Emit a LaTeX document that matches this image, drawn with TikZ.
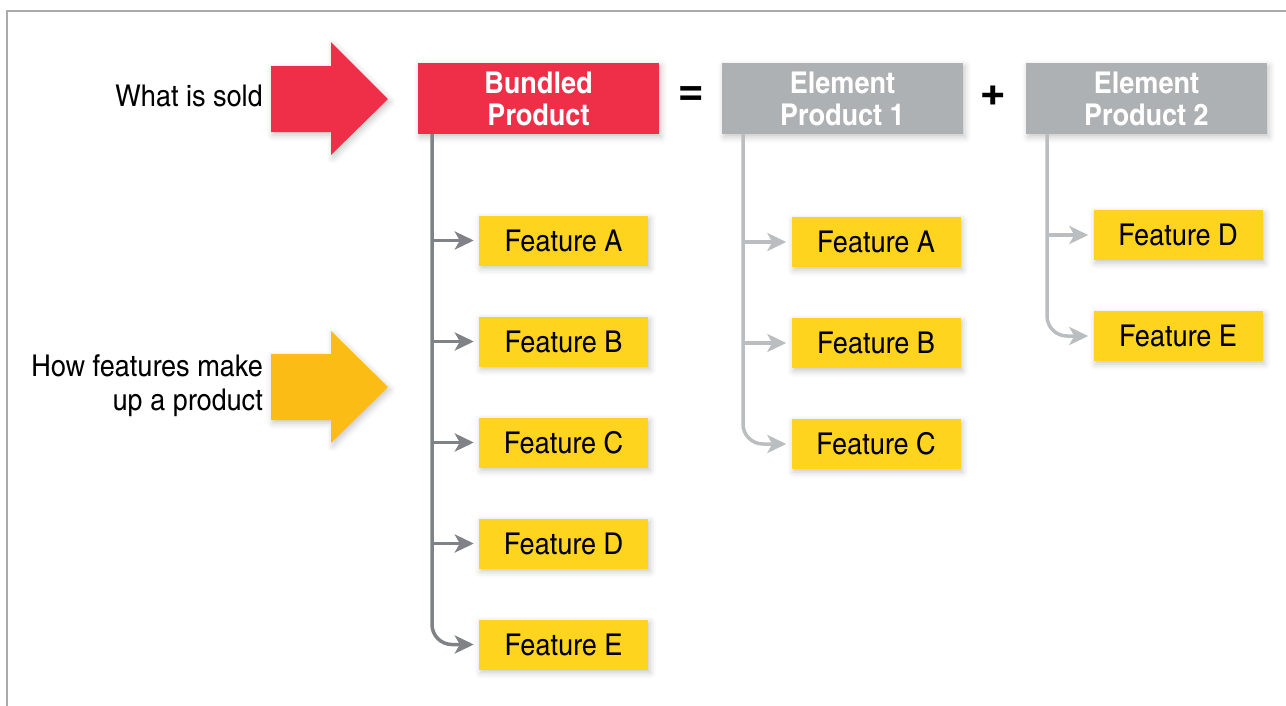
\documentclass[tikz,border=0pt]{standalone}
\usepackage{fontspec}
\setmainfont{texgyreheroscn}[Extension=.otf, UprightFont=*-regular, BoldFont=*-bold, FakeStretch=1.1]
\usepackage{tikz}
\usetikzlibrary{arrows.meta,shadows.blur}
\definecolor{soldred}{HTML}{EF2E48}
\definecolor{featyellow}{HTML}{FED41F}
\definecolor{arrowyellow}{HTML}{FBBC15}
\definecolor{elemgray}{HTML}{AEB1B3}
\definecolor{trunkdark}{HTML}{7F8387}
\definecolor{trunklight}{HTML}{BBBEC1}
\definecolor{framegray}{HTML}{A9ABAE}
\tikzstyle{softshadow}=[blur shadow={shadow xshift=2pt, shadow yshift=-3pt, shadow blur radius=6pt, shadow opacity=22}]
\tikzstyle{product}=[minimum width=241pt, minimum height=71pt, inner sep=0pt, align=center, text=white, font=\fontsize{30}{32}\selectfont\bfseries, softshadow]
\tikzstyle{bundle}=[product, fill=soldred]
\tikzstyle{element}=[product, fill=elemgray]
\tikzstyle{feature}=[fill=featyellow, minimum width=169pt, minimum height=50pt, inner sep=0pt, font=\fontsize{30}{32}\selectfont, softshadow]
\tikzstyle{sign}=[font=\fontsize{52}{52}\selectfont\bfseries, inner sep=0pt]
\tikzstyle{label}=[anchor=east, align=right, inner sep=0pt, font=\fontsize{30}{34}\selectfont]
\tikzstyle{blockarrow}=[softshadow]
\tikzstyle{darklink}=[line width=3.5pt, color=trunkdark, -{Stealth[length=19pt, width=18pt, inset=5pt]}]
\tikzstyle{lightlink}=[line width=3.5pt, color=trunklight, -{Stealth[length=19pt, width=18pt, inset=5pt]}]

\begin{document}
\begin{tikzpicture}[x=1pt, y=-1pt]
\useasboundingbox (0,0) rectangle (1286,705);
\draw[framegray, line width=2.5pt] (7,720) -- (7,11) -- (1300,11);

\fill[soldred, blockarrow] (271,66) -- (331,66) -- (331,42) -- (388,99) -- (331,155) -- (331,132) -- (271,132) -- cycle;
\fill[arrowyellow, blockarrow] (271,354) -- (331,354) -- (331,331) -- (388,387) -- (331,443) -- (331,420) -- (271,420) -- cycle;

\node[label] (sold) at (263,96) {What is sold};
\node[label] (how) at (263,386) {How features make\\up a product};

\node[bundle] (bp) at (538.5,98.5) {Bundled\\Product};
\node[sign] (eq) at (691,97) {=};
\node[element] (ep1) at (842.5,98.5) {Element\\Product 1};
\node[sign] (plus) at (993,97) {+};
\node[element] (ep2) at (1146.5,98.5) {Element\\Product 2};

\node[feature] (bpa) at (563.5,240.5) {Feature A};
\node[feature] (bpb) at (563.5,341.5) {Feature B};
\node[feature] (bpc) at (563.5,442.5) {Feature C};
\node[feature] (bpd) at (563.5,543.5) {Feature D};
\node[feature] (bpe) at (563.5,644.5) {Feature E};

\node[feature] (ep1a) at (876,242) {Feature A};
\node[feature] (ep1b) at (876,343) {Feature B};
\node[feature] (ep1c) at (876,444) {Feature C};

\node[feature] (ep2d) at (1178,235) {Feature D};
\node[feature] (ep2e) at (1178,336) {Feature E};

\coordinate (bpt) at (432,134);
\coordinate (ep1t) at (743,134);
\coordinate (ep2t) at (1047,134);

\draw[darklink, rounded corners=20pt] (bpt) |- ([xshift=-5pt]bpe.west);
\foreach \f in {bpa,bpb,bpc,bpd}
  \draw[darklink] (bpt |- \f.west) -- ([xshift=-5pt]\f.west);

\draw[lightlink, rounded corners=20pt] (ep1t) |- ([xshift=-5pt]ep1c.west);
\foreach \f in {ep1a,ep1b}
  \draw[lightlink] (ep1t |- \f.west) -- ([xshift=-5pt]\f.west);

\draw[lightlink, rounded corners=20pt] (ep2t) |- ([xshift=-5pt]ep2e.west);
\draw[lightlink] (ep2t |- ep2d.west) -- ([xshift=-5pt]ep2d.west);
\end{tikzpicture}
\end{document}
